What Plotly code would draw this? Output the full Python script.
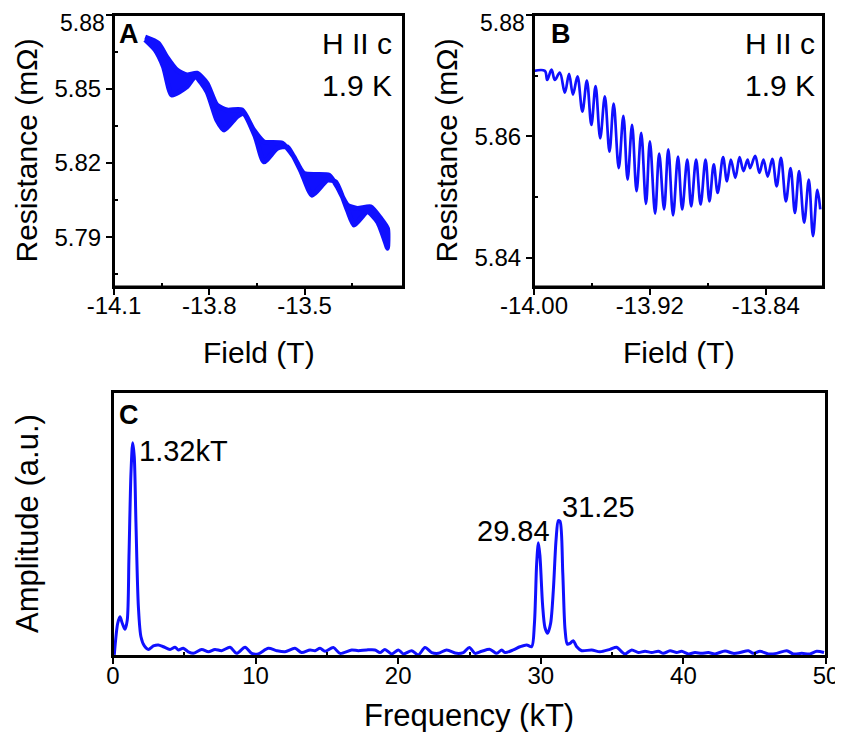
import plotly.graph_objects as go

# ---------------- Panel A : band of fast oscillations (upper / lower envelope)
A_field_upper = [-14.002, -13.960, -13.934, -13.902, -13.870, -13.839, -13.807, -13.776, -13.744,
                 -13.697, -13.660, -13.628, -13.570, -13.534, -13.502, -13.423, -13.397, -13.365,
                 -13.334, -13.292, -13.260, -13.239]
A_res_upper = [5.8710, 5.8685, 5.8630, 5.8577, 5.8557, 5.8564, 5.8523, 5.8435, 5.8415,
               5.8415, 5.8334, 5.8286, 5.8280, 5.8226, 5.8158, 5.8151, 5.8104, 5.8030,
               5.8016, 5.8023, 5.7976, 5.7935]
A_field_lower = [-14.002, -13.970, -13.944, -13.918, -13.870, -13.844, -13.807, -13.776, -13.753,
                 -13.713, -13.692, -13.655, -13.628, -13.586, -13.555, -13.513, -13.476, -13.428,
                 -13.402, -13.365, -13.344, -13.302, -13.270, -13.244, -13.239]
A_res_lower = [5.8700, 5.8658, 5.8590, 5.8476, 5.8510, 5.8550, 5.8489, 5.8374, 5.8334,
               5.8388, 5.8400, 5.8307, 5.8205, 5.8260, 5.8266, 5.8172, 5.8070, 5.8131,
               5.8124, 5.8010, 5.7949, 5.8003, 5.7962, 5.7875, 5.7855]

# ---------------- Panel B : zoomed oscillation (peaks and troughs)
B_field = [-14.0000, -13.9925, -13.9909, -13.9879, -13.9856, -13.9822, -13.9787, -13.9758,
           -13.9731, -13.9700, -13.9666, -13.9635, -13.9604, -13.9575, -13.9543, -13.9511,
           -13.9479, -13.9450, -13.9415, -13.9383, -13.9354, -13.9323, -13.9292, -13.9260,
           -13.9227, -13.9200, -13.9164, -13.9136, -13.9102, -13.9073, -13.9040, -13.9006,
           -13.8977, -13.8942, -13.8915, -13.8881, -13.8850, -13.8816, -13.8789, -13.8759,
           -13.8732, -13.8695, -13.8668, -13.8641, -13.8610, -13.8581, -13.8554, -13.8526,
           -13.8508, -13.8473, -13.8444, -13.8416, -13.8387, -13.8355, -13.8325, -13.8295,
           -13.8261, -13.8229, -13.8199, -13.8170, -13.8135, -13.8103, -13.8074, -13.8044,
           -13.8024]
B_res = [5.8708, 5.8708, 5.8693, 5.8710, 5.8693, 5.8705, 5.8672, 5.8703,
         5.8669, 5.8699, 5.8641, 5.8692, 5.8619, 5.8683, 5.8597, 5.8666,
         5.8575, 5.8654, 5.8548, 5.8634, 5.8529, 5.8619, 5.8510, 5.8606,
         5.8489, 5.8592, 5.8473, 5.8572, 5.8480, 5.8579, 5.8470, 5.8567,
         5.8480, 5.8562, 5.8485, 5.8562, 5.8488, 5.8562, 5.8493, 5.8554,
         5.8507, 5.8566, 5.8526, 5.8562, 5.8532, 5.8566, 5.8543, 5.8562,
         5.8548, 5.8568, 5.8540, 5.8562, 5.8534, 5.8563, 5.8518, 5.8565,
         5.8493, 5.8548, 5.8474, 5.8543, 5.8458, 5.8529, 5.8436, 5.8512,
         5.8480]

# ---------------- Panel C : FFT spectrum
C_freq = [0.09, 0.33, 0.49, 0.65, 0.84, 1.00, 1.12, 1.26, 1.38, 1.49, 1.61, 1.78, 1.96,
          2.20, 2.48, 2.83, 3.18, 3.53, 4.00, 4.35, 4.58, 4.93, 5.28, 5.63, 6.22, 6.69,
          7.15, 7.62, 8.21, 8.67, 9.26, 9.73, 10.19, 10.89, 11.48, 12.06, 12.76, 13.23,
          13.82, 14.17, 14.52, 14.87, 15.45, 15.92, 16.74, 17.20, 17.79, 18.37, 18.72,
          19.07, 19.55, 20.01, 20.36, 20.95, 21.41, 21.88, 22.35, 22.81, 23.40, 24.10,
          24.57, 24.99, 25.39, 25.86, 26.44, 26.91, 27.26, 27.49, 28.07, 28.54, 29.01,
          29.36, 29.55, 29.71, 29.83, 29.94, 30.13, 30.29, 30.48, 30.69, 30.88, 31.07,
          31.23, 31.35, 31.54, 31.70, 31.86, 32.05, 32.28, 32.52, 32.87, 33.57, 34.15,
          34.85, 35.32, 35.67, 35.91, 36.38, 36.84, 37.31, 37.78, 38.24, 38.59, 39.06,
          39.53, 39.88, 40.35, 40.81, 41.28, 41.75, 42.22, 42.92, 43.50, 43.97, 44.55,
          44.90, 45.37, 45.96, 46.54, 47.25, 47.71, 48.30, 48.88, 49.35, 49.86]
C_amp = [0.004, 0.124, 0.149, 0.124, 0.101, 0.136, 0.376, 0.692, 0.808, 0.755, 0.503, 0.187, 0.073,
         0.038, 0.025, 0.038, 0.042, 0.035, 0.025, 0.033, 0.023, 0.029, 0.016, 0.010, 0.025, 0.016,
         0.025, 0.020, 0.033, 0.010, 0.033, 0.010, 0.008, 0.029, 0.020, 0.016, 0.029, 0.013,
         0.023, 0.020, 0.029, 0.018, 0.032, 0.010, 0.023, 0.020, 0.023, 0.023, 0.013,
         0.025, 0.008, 0.023, 0.008, 0.020, 0.004, 0.032, 0.013, 0.010, 0.023, 0.010,
         0.013, 0.032, 0.010, 0.018, 0.025, 0.010, 0.023, 0.013, 0.023, 0.035, 0.042,
         0.035, 0.120, 0.350, 0.429, 0.380, 0.190, 0.108, 0.086, 0.124, 0.250, 0.440,
         0.513, 0.510, 0.316, 0.101, 0.045, 0.048, 0.058, 0.035, 0.020, 0.023, 0.016,
         0.025, 0.033, 0.016, 0.008, 0.023, 0.013, 0.018, 0.013, 0.018, 0.010, 0.020,
         0.013, 0.018, 0.008, 0.013, 0.010, 0.013, 0.008, 0.019, 0.010, 0.013, 0.020,
         0.010, 0.018, 0.008, 0.010, 0.020, 0.008, 0.010, 0.008, 0.018, 0.013]

peak_labels = ["1.32kT", "29.84", "31.25"]
A_yticks = [5.79, 5.82, 5.85, 5.88]
B_yticks = [5.84, 5.86, 5.88]

BLUE = "#1010FF"
FONT = "Liberation Sans, Arial, sans-serif"

# The page body has an 8 px margin: the figure is laid out in page pixels shifted by it.
OFF = 8.0
W, H = 843.0 - OFF, 740.0 - 2 * OFF

def px(x):
    return (x - OFF) / W

def py(y):
    return 1 - (y - OFF) / H

fig = go.Figure()

# Panel A band
fig.add_trace(go.Scatter(
    x=A_field_upper + A_field_lower[::-1],
    y=A_res_upper + A_res_lower[::-1],
    fill="toself", fillcolor=BLUE, mode="lines",
    line=dict(color=BLUE, width=5, shape="spline", smoothing=0.6),
    xaxis="x", yaxis="y", showlegend=False, hoverinfo="skip"))

# Panel B
fig.add_trace(go.Scatter(
    x=B_field, y=B_res, mode="lines",
    line=dict(color=BLUE, width=2.7, shape="spline", smoothing=1.0),
    xaxis="x2", yaxis="y2", showlegend=False))

# Panel C
fig.add_trace(go.Scatter(
    x=C_freq, y=C_amp, mode="lines",
    line=dict(color=BLUE, width=3, shape="spline", smoothing=0.8),
    xaxis="x3", yaxis="y3", showlegend=False))

axis_common = dict(showline=True, linecolor="black", linewidth=2, mirror=True,
                   showgrid=False, zeroline=False, ticks="outside", ticklen=6,
                   tickwidth=2, tickcolor="black", automargin=False,
                   ticklabeloverflow="allow",
                   tickfont=dict(family=FONT, size=24, color="black"))
minor_common = dict(ticks="inside", ticklen=4, tickwidth=2, tickcolor="black")

# the top tick label of A and B sits at the page edge; it is written as an annotation below
A_yticktext = [f"{v:.2f}" for v in A_yticks[:-1]] + [""]
B_yticktext = [f"{v:.2f}" for v in B_yticks[:-1]] + [""]

fig.update_layout(
    width=W, height=H,
    margin=dict(l=0, r=0, t=0, b=0, autoexpand=False),
    paper_bgcolor="white", plot_bgcolor="white",
    font=dict(family=FONT, color="black"),
    xaxis=dict(domain=[px(114), px(403)], range=[-14.1, -13.19],
               tickvals=[-14.1, -13.8, -13.5], ticktext=["-14.1", "-13.8", "-13.5"],
               minor=dict(tickvals=[-13.95, -13.65, -13.35], **minor_common),
               ticklabelstandoff=-9, anchor="y", **axis_common),
    yaxis=dict(domain=[py(286.5), py(15)], range=[5.77, 5.88],
               tickvals=A_yticks, ticktext=A_yticktext,
               minor=dict(tickvals=[5.775, 5.805, 5.835, 5.865], **minor_common),
               anchor="x", **axis_common),
    xaxis2=dict(domain=[px(534), px(823)], range=[-14.0, -13.8005],
                tickvals=[-14.0, -13.92, -13.84], ticktext=["-14.00", "-13.92", "-13.84"],
                minor=dict(tickvals=[-13.96, -13.88], **minor_common),
                ticklabelstandoff=-9, anchor="y2", **axis_common),
    yaxis2=dict(domain=[py(286.5), py(15)], range=[5.8353, 5.88],
                tickvals=B_yticks, ticktext=B_yticktext,
                minor=dict(tickvals=[5.85, 5.87], **minor_common),
                anchor="x2", **axis_common),
    xaxis3=dict(domain=[px(113), px(826)], range=[0, 50],
                tickvals=[0, 10, 20, 30, 40, 50],
                minor=dict(tickvals=[5, 15, 25, 35, 45], **minor_common),
                ticklabelstandoff=-9, anchor="y3", **axis_common),
    yaxis3=dict(domain=[py(656), py(392)], range=[0, 1], showticklabels=False,
                showline=True, linecolor="black", linewidth=2, mirror=True,
                showgrid=False, zeroline=False, ticks="", anchor="x3", automargin=False),
)

# panel frames drawn as rectangles on each axis domain
for xr, yr in (("x", "y"), ("x2", "y2"), ("x3", "y3")):
    fig.add_shape(type="rect", xref=f"{xr} domain", yref=f"{yr} domain",
                  x0=0, x1=1, y0=0, y1=1, line=dict(color="black", width=2),
                  fillcolor="rgba(0,0,0,0)", layer="above")

def ann(text, x, y, size, xanchor="center", yanchor="middle", angle=0, bold=False):
    fig.add_annotation(text=f"<b>{text}</b>" if bold else text, x=px(x), y=py(y),
                       xref="paper", yref="paper", xanchor=xanchor, yanchor=yanchor,
                       textangle=angle, showarrow=False,
                       font=dict(family=FONT, size=size, color="black"))

# top tick labels (kept inside the page)
ann(f"{A_yticks[-1]:.2f}", 107, 8, 23, xanchor="right", yanchor="top")
ann(f"{B_yticks[-1]:.2f}", 527, 8, 23, xanchor="right", yanchor="top")

# axis titles
ann("Field (T)", 258.5, 352, 30)
ann("Field (T)", 678.5, 352, 30)
ann("Resistance (mΩ)", 26, 150.5, 30, angle=-90)
ann("Resistance (mΩ)", 446, 150.5, 30, angle=-90)
ann("Frequency (kT)", 469.5, 715, 31)
ann("Amplitude (a.u.)", 27, 524, 31, angle=-90)

# panel letters
ann("A", 117, 34, 27, xanchor="left", bold=True)
ann("B", 549, 34, 27, xanchor="left", bold=True)
ann("C", 117, 415, 27, xanchor="left", bold=True)

# condition labels
ann("H II c", 394, 44, 30, xanchor="right")
ann("1.9 K", 394, 85, 30, xanchor="right")
ann("H II c", 817, 44, 30, xanchor="right")
ann("1.9 K", 817, 85, 30, xanchor="right")

# peak labels in panel C (data coordinates)
fig.add_annotation(text=peak_labels[0], x=C_freq[8], y=C_amp[8], xref="x3", yref="y3",
                   xanchor="left", yanchor="middle", xshift=4, yshift=-8, showarrow=False,
                   font=dict(family=FONT, size=29, color="black"))
fig.add_annotation(text=peak_labels[1], x=C_freq[74], y=C_amp[74], xref="x3", yref="y3",
                   xanchor="right", yanchor="middle", xshift=14, yshift=12, showarrow=False,
                   font=dict(family=FONT, size=29, color="black"))
fig.add_annotation(text=peak_labels[2], x=C_freq[82], y=C_amp[82], xref="x3", yref="y3",
                   xanchor="left", yanchor="middle", xshift=2, yshift=14, showarrow=False,
                   font=dict(family=FONT, size=29, color="black"))

fig.write_html("out.html")
